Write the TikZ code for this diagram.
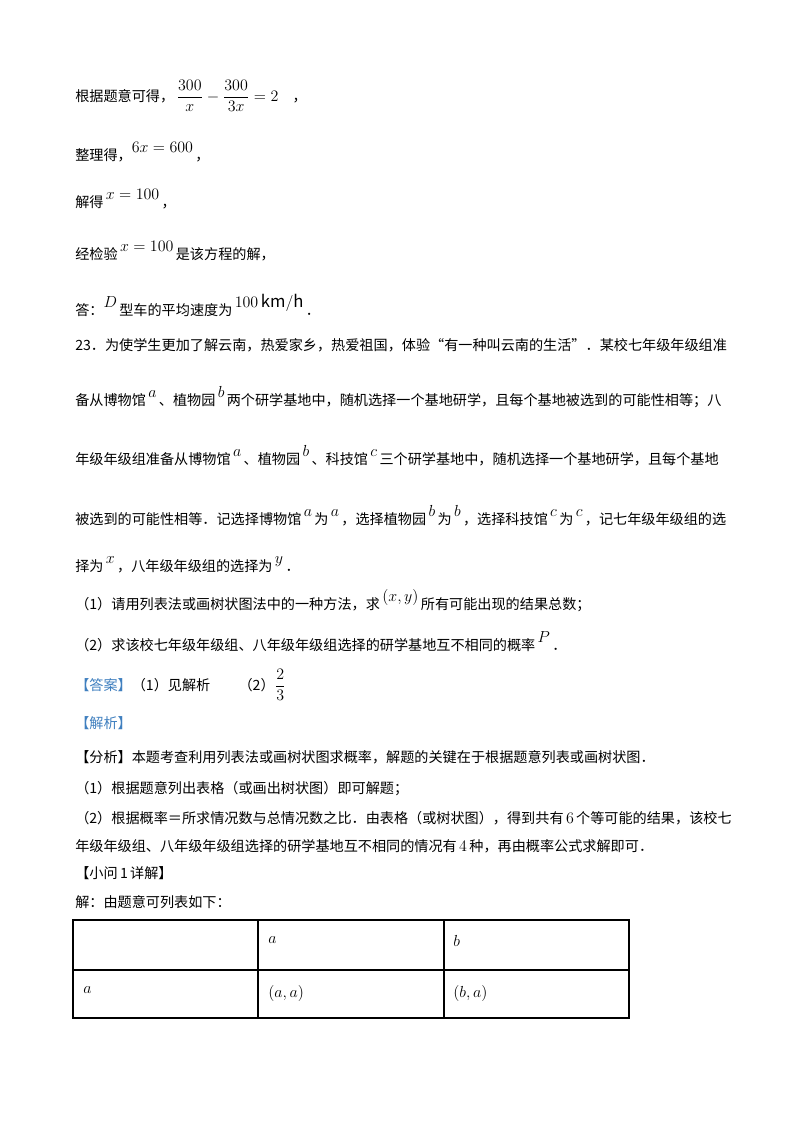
\documentclass[tikz,border=0pt]{standalone}
\usepackage{amsmath}
\usepackage{fontspec}
\setmainfont{Noto Sans CJK SC}
\definecolor{ansblue}{HTML}{3F7FBF}
\newcommand{\mth}[1]{{\fontsize{12.5pt}{14pt}\selectfont$#1$}}
\newcommand{\up}[1]{\raisebox{0.55em}{\mth{#1}}}
\tikzset{txt/.style={anchor=base west,inner sep=0pt,font=\fontsize{10.6pt}{12pt}\selectfont}}
\begin{document}
\begin{tikzpicture}[x=0.75pt,y=-0.75pt]
\useasboundingbox[fill=white] (0,0) rectangle (800,1132);
\node[txt] (l1) at (75,101) {根据题意可得，\,\mth{\dfrac{300}{x}-\dfrac{300}{3x}=2}\quad ，};
\node[txt] (l2) at (75,160) {整理得，\up{6x=600}\,，};
\node[txt] (l3) at (75,207) {解得\,\up{x=100}\,，};
\node[txt] (l4) at (75,259) {经检验\,\up{x=100}\,是该方程的解，};
\node[txt] (l5) at (75,315) {答：\up{D}\,型车的平均速度为\,\up{100\,\mathrm{km}/\mathrm{h}}\,．};
\node[txt] (l6) at (75,350) {23．为使学生更加了解云南，热爱家乡，热爱祖国，体验“有一种叫云南的生活”．某校七年级年级组准};
\node[txt] (l7) at (75,405) {备从博物馆\,\up{a}\,、植物园\,\up{b}\,两个研学基地中，随机选择一个基地研学，且每个基地被选到的可能性相等；八};
\node[txt] (l8) at (75,464) {年级年级组准备从博物馆\,\up{a}\,、植物园\,\up{b}\,、科技馆\,\up{c}\,三个研学基地中，随机选择一个基地研学，且每个基地};
\node[txt] (l9) at (75,524) {被选到的可能性相等．记选择博物馆\,\up{a}\,为\,\up{a}\,，选择植物园\,\up{b}\,为\,\up{b}\,，选择科技馆\,\up{c}\,为\,\up{c}\,，记七年级年级组的选};
\node[txt] (l10) at (75,571) {择为\,\up{x}\,，八年级年级组的选择为\,\up{y}\,．};
\node[txt] (l11) at (75,609) {（1）请用列表法或画树状图法中的一种方法，求\,\up{(x,y)}\,所有可能出现的结果总数；};
\node[txt] (l12) at (75,650) {（2）求该校七年级年级组、八年级年级组选择的研学基地互不相同的概率\,\up{P}\,．};
\node[txt] (l13) at (75,690) {\textcolor{ansblue}{【答案】}（1）见解析\qquad（2）\mth{\dfrac{2}{3}}};
\node[txt] (l14) at (75,728) {\textcolor{ansblue}{【解析】}};
\node[txt] (l15) at (75,762) {【分析】本题考查利用列表法或画树状图求概率，解题的关键在于根据题意列表或画树状图．};
\node[txt] (l16) at (75,793) {（1）根据题意列出表格（或画出树状图）即可解题；};
\node[txt] (l17) at (75,823) {（2）根据概率＝所求情况数与总情况数之比．由表格（或树状图），得到共有\,\mth{6}\,个等可能的结果，该校七};
\node[txt] (l18) at (75,851) {年级年级组、八年级年级组选择的研学基地互不相同的情况有\,\mth{4}\,种，再由概率公式求解即可．};
\node[txt] (l19) at (75,878) {【小问\,1\,详解】};
\node[txt] (l20) at (75,907) {解：由题意可列表如下：};
% table
\draw[line width=0.8pt] (73,920) rectangle (629,1018);
\draw[line width=0.8pt] (73,970) -- (629,970);
\draw[line width=0.8pt] (258,920) -- (258,1018);
\draw[line width=0.8pt] (444,920) -- (444,1018);
\node[txt] (c12) at (268,943) {\mth{a}};
\node[txt] (c13) at (453,946) {\mth{b}};
\node[txt] (c21) at (83,993) {\mth{a}};
\node[txt] (c22) at (268,997) {\mth{\left(a,a\right)}};
\node[txt] (c23) at (453,997) {\mth{\left(b,a\right)}};
\end{tikzpicture}
\end{document}
